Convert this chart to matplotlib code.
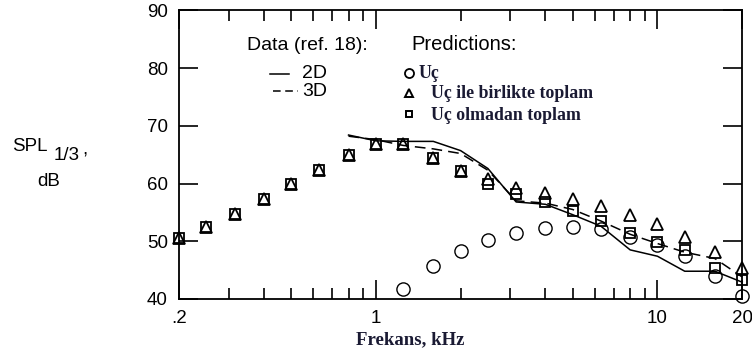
import matplotlib.pyplot as plt
from matplotlib.ticker import FixedLocator, FixedFormatter

# third-octave band centre frequencies, kHz
freq = [0.2, 0.25, 0.315, 0.4, 0.5, 0.63, 0.8, 1.0, 1.25, 1.6, 2.0,
        2.5, 3.15, 4.0, 5.0, 6.3, 8.0, 10.0, 12.5, 16.0, 20.0]

# predictions
total_with_tip = [50.5, 52.5, 54.8, 57.4, 59.9, 62.4, 65.0, 66.9, 66.8, 64.5, 62.2,
                  60.8, 59.2, 58.4, 57.3, 56.1, 54.5, 52.9, 50.7, 48.1, 45.4]
total_without_tip = [50.5, 52.5, 54.8, 57.4, 59.9, 62.4, 65.0, 66.9, 66.8, 64.5, 62.2,
                     60.0, 58.2, 56.8, 55.2, 53.5, 51.4, 49.9, 48.5, 45.4, 43.3]
tip_freq = [1.25, 1.6, 2.0, 2.5, 3.15, 4.0, 5.0, 6.3, 8.0, 10.0, 12.5, 16.0, 20.0]
tip_only = [41.8, 45.7, 48.3, 50.2, 51.4, 52.3, 52.5, 52.1, 50.8, 49.3, 47.4, 44.0, 40.5]

# measured data (ref. 18)
data_freq = [0.8, 1.0, 1.25, 1.6, 2.0, 2.5, 3.15, 4.0, 5.0, 6.3, 8.0, 10.0, 12.5, 16.0, 20.0]
data_2d = [68.4, 67.4, 67.3, 67.3, 65.7, 62.6, 56.8, 56.4, 54.6, 52.6, 48.5, 47.4, 44.8, 44.8, 42.9]
data_3d = [68.2, 67.6, 66.6, 66.0, 65.2, 62.3, 57.0, 56.6, 55.5, 53.5, 51.2, 49.6, 48.1, 47.0, 43.8]

xtick_vals = [0.2, 1, 10, 20]
xtick_text = ['.2', '1', '10', '20']

sans = 'Liberation Sans'
serif = 'Liberation Serif'
serif_col = '#1a1a33'

fig = plt.figure(figsize=(7.52, 3.58), dpi=100)
ax = fig.add_axes([0.238, 0.165, 0.749, 0.806])

ax.plot(data_freq, data_2d, '-', color='black', lw=1.1, clip_on=False)
ax.plot(data_freq, data_3d, '--', color='black', lw=1.1, dashes=(7, 4), clip_on=False)
ax.plot(tip_freq, tip_only, 'o', mfc='none', mec='black', ms=9.5, mew=1.0, clip_on=False)
ax.plot(freq, total_with_tip, '^', mfc='none', mec='black', ms=8, mew=1.3, clip_on=False)
ax.plot(freq, total_without_tip, 's', mfc='none', mec='black', ms=6.5, mew=1.3, clip_on=False)

ax.set_xscale('log')
ax.set_xlim(0.2, 20)
ax.set_ylim(40, 90)

ax.xaxis.set_major_locator(FixedLocator(xtick_vals))
ax.xaxis.set_major_formatter(FixedFormatter(xtick_text))
minor = [m * d for d in (0.1, 1, 10) for m in range(2, 10) if 0.2 < m * d < 20]
ax.xaxis.set_minor_locator(FixedLocator(minor))
ax.xaxis.set_minor_formatter(FixedFormatter([]))
ax.set_yticks([40, 50, 60, 70, 80, 90])

ax.tick_params(which='major', direction='in', length=14, width=1.2,
               top=True, right=True, labelsize=13.5, pad=8)
ax.tick_params(which='minor', direction='in', length=8, width=1.2,
               top=True, bottom=True)
for lab in ax.get_xticklabels() + ax.get_yticklabels():
    lab.set_fontfamily(sans)
for sp in ax.spines.values():
    sp.set_linewidth(1.3)

fig.text(410 / 752, 1 - 340 / 358, 'Frekans, kHz', family=serif, weight='bold',
         fontsize=13.5, color=serif_col, ha='center', va='center')

# y label built from pieces
fig.text(12 / 752, 1 - 146 / 358, 'SPL', family=sans, fontsize=13.5, va='center')
fig.text(54 / 752, 1 - 156 / 358, '1/3', family=sans, fontsize=13.5, va='center')
fig.text(82 / 752, 1 - 150 / 358, ',', family=sans, fontsize=13.5, va='center')
fig.text(37 / 752, 1 - 181 / 358, 'dB', family=sans, fontsize=13.5, va='center')

# key
key = fig.add_axes([0, 0, 1, 1], facecolor='none')
key.set_xlim(0, 752)
key.set_ylim(358, 0)
key.axis('off')
key.text(247, 45, 'Data (ref. 18):', family=sans, fontsize=14, va='center')
key.text(411, 45, 'Predictions:', family=sans, fontsize=14.5, va='center')
key.plot([270, 289], [74, 74], '-', color='black', lw=1.1)
key.plot([273, 298], [91, 91], '--', color='black', lw=1.1, dashes=(5, 3))
key.text(302, 74, '2D', family=sans, fontsize=14, va='center')
key.text(302, 91, '3D', family=sans, fontsize=14, va='center')
key.plot([409], [73], 'o', mfc='none', mec='black', ms=6.5, mew=1.3)
key.plot([409], [93], '^', mfc='none', mec='black', ms=6, mew=1.4)
key.plot([409], [114], 's', mfc='none', mec='black', ms=5, mew=1.4)
key.text(419, 73, 'Uç', family=serif, weight='bold', fontsize=12.8,
         color=serif_col, va='center')
key.text(431, 94, 'Uç ile birlikte toplam', family=serif, weight='bold',
         fontsize=12.8, color=serif_col, va='center')
key.text(431, 115, 'Uç olmadan toplam', family=serif, weight='bold',
         fontsize=12.8, color=serif_col, va='center')

fig.savefig('out.png', dpi=100)
